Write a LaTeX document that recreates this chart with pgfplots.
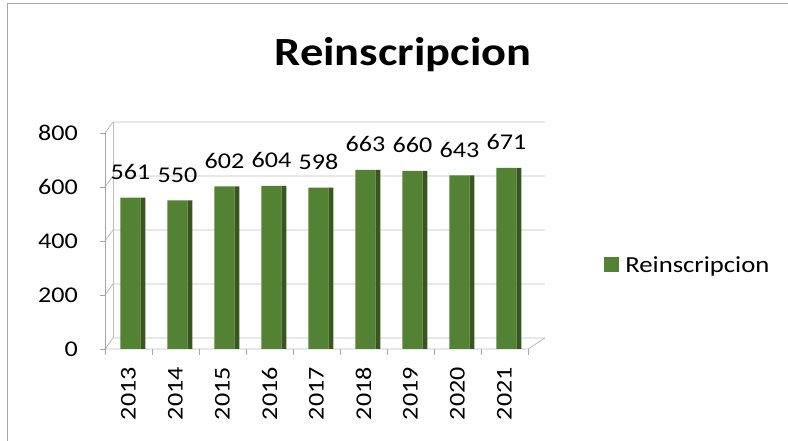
\documentclass[border=0pt]{standalone}
\usepackage{fontspec}
\setmainfont{Carlito}[FakeStretch=1.16]
\usepackage{pgfplots}
\pgfplotsset{compat=1.18}
\definecolor{barfront}{HTML}{548235}
\definecolor{barside}{HTML}{38571F}
\definecolor{gridc}{HTML}{BFBFBF}
\definecolor{axisc}{HTML}{A6A6A6}
\begin{document}
\begin{tikzpicture}
\useasboundingbox (0,0) rectangle (788pt,441pt);
\draw[color=axisc, line width=1.2pt] (7.5pt,-5pt) -- (7.5pt,437.5pt) -- (800pt,437.5pt);
\node[font=\fontsize{40}{46}\selectfont\bfseries] at (403pt,386pt) {Reinscripcion};
\begin{axis}[
  at={(105pt,92pt)}, anchor=south west,
  scale only axis, width=423pt, height=216pt,
  xmin=-0.5, xmax=8.5, ymin=0, ymax=800,
  axis lines=none,
  clip=false,
  xtick=\empty, ytick=\empty,
  ybar, bar width=20pt,
  legend style={at={(1.18,0.389)}, anchor=west, draw=none, fill=none, inner sep=0pt,
    column sep=4pt,
    font=\fontsize{23}{27}\selectfont, legend cell align=left},
  legend image code/.code={\fill[barfront] (0pt,-7.5pt) rectangle (15pt,7.5pt);},
]
% back wall and floor
\foreach \v in {0,200,400,600,800} {
  \edef\tmp{\noexpand\draw[gridc, line width=0.9pt] (axis cs:-0.5,\v) -- ([shift={(8pt,11pt)}]axis cs:-0.5,\v) -- ([shift={(17pt,11pt)}]axis cs:8.5,\v);}
  \tmp
}
\draw[gridc, line width=0.9pt] ([shift={(8pt,11pt)}]axis cs:-0.5,0) -- ([shift={(8pt,11pt)}]axis cs:-0.5,800);
\draw[gridc, line width=0.9pt] (axis cs:-0.5,0) -- (axis cs:8.5,0) -- ([shift={(17pt,11pt)}]axis cs:8.5,0);
% front y axis with ticks
\draw[axisc, line width=0.9pt] (axis cs:-0.5,0) -- (axis cs:-0.5,800);
\foreach \v in {0,200,400,600,800} {
  \edef\tmp{\noexpand\draw[axisc, line width=0.9pt] ([xshift=-5pt]axis cs:-0.5,\v) -- (axis cs:-0.5,\v);
  \noexpand\node[anchor=east, inner sep=0pt, font=\noexpand\fontsize{22.5}{26}\noexpand\selectfont] at ([xshift=-27pt]axis cs:-0.5,\v) {\v};}
  \tmp
}
% x category ticks and labels
\foreach \k [count=\i from 0] in {2013,2014,2015,2016,2017,2018,2019,2020,2021} {
  \edef\tmp{\noexpand\draw[axisc, line width=0.9pt] (axis cs:\i-0.5,0) -- ([yshift=-6pt]axis cs:\i-0.5,0);
  \noexpand\node[rotate=90, anchor=east, inner sep=0pt, font=\noexpand\fontsize{22.5}{26}\noexpand\selectfont] at ([yshift=-18pt]axis cs:\i,0) {\k};}
  \tmp
}
\draw[axisc, line width=0.9pt] (axis cs:8.5,0) -- ([yshift=-6pt]axis cs:8.5,0);
% bar sides
\addplot[fill=barside, draw=none, bar width=5pt, bar shift=14.5pt, forget plot] coordinates {
(0,561) (1,550) (2,602) (3,604) (4,598) (5,663) (6,660) (7,643) (8,671)};
% bar fronts
\addplot[fill=barfront, draw=none, bar shift=2pt,
  nodes near coords, every node near coord/.append style={anchor=south, inner sep=0pt, yshift=18pt, font=\fontsize{22.5}{26}\selectfont, black},
  point meta=explicit symbolic] coordinates {
(0,561) [561] (1,550) [550] (2,602) [602] (3,604) [604] (4,598) [598] (5,663) [663] (6,660) [660] (7,643) [643] (8,671) [671]};
\addlegendentry{Reinscripcion}
\end{axis}
\end{tikzpicture}
\end{document}
